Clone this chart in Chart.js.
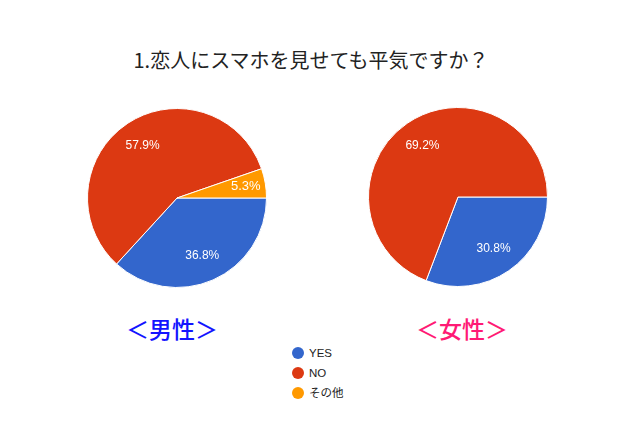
<!DOCTYPE html>
<html>
<head>
<meta charset="utf-8">
<script src="https://cdn.jsdelivr.net/npm/chart.js@4"></script>
<style>
body{margin:0;background:#fff;width:640px;height:427px;position:relative;overflow:hidden;font-family:"Noto Sans CJK JP",Arial,sans-serif}
#title{position:absolute;left:0;width:622px;top:45px;text-align:center;font-size:20px;color:#222}
.sub{position:absolute;top:311px;font-size:23px;width:140px;text-align:center;font-weight:500}
#legend{position:absolute;left:292px;top:343px;font-size:11.5px;color:#222;font-family:Arial,"Noto Sans CJK JP",sans-serif}
#legend div{height:20px;line-height:20px;display:flex;align-items:center}
#legend span{display:inline-block;width:12px;height:12px;border-radius:50%;margin-right:5px}
canvas{position:absolute}
</style>
</head>
<body>
<div id="title">1.恋人にスマホを見せても平気ですか？</div>
<canvas id="male" width="200" height="200" style="left:77px;top:98px"></canvas>
<canvas id="female" width="200" height="200" style="left:358px;top:97px"></canvas>
<div class="sub" style="left:102px;color:#1414ff">＜男性＞</div>
<div class="sub" style="left:392px;color:#ff1a75">＜女性＞</div>
<div id="legend"></div>
<script>
// データ
const categories = ['YES', 'NO', 'その他'];
const maleValues = [36.8, 57.9, 5.3];
const femaleValues = [30.8, 69.2, 0];
const colores = ['#3366cc', '#dc3912', '#ff9900'];

// ラベル（パーセント）
const etiquetas = {
  id: 'etiquetas',
  afterDatasetsDraw(chart){
    const ctx = chart.ctx;
    const meta = chart.getDatasetMeta(0);
    const data = chart.data.datasets[0].data;
    ctx.save();
    ctx.fillStyle = '#fff';
    ctx.textAlign = 'center';
    ctx.textBaseline = 'middle';
    meta.data.forEach(function(arc, i){
      if(!data[i]) return;
      const p = arc.getProps(['startAngle','endAngle','outerRadius','x','y'], true);
      const mid = (p.startAngle + p.endAngle) / 2;
      const r = p.outerRadius * (data[i] < 10 ? 0.78 : 0.7);
      ctx.font = (data[i] < 10 ? '13px' : '12px') + ' Arial';
      ctx.fillText(data[i].toFixed(1) + '%', p.x + Math.cos(mid) * r, p.y + Math.sin(mid) * r);
    });
    ctx.restore();
  }
};

function pastel(id, valores){
  new Chart(document.getElementById(id), {
    type: 'pie',
    data: {
      labels: categories,
      datasets: [{
        data: valores,
        backgroundColor: colores,
        borderColor: '#fff',
        borderWidth: 1
      }]
    },
    options: {
      responsive: false,
      animation: false,
      rotation: 90,
      layout: {padding: 10},
      plugins: {legend: {display: false}, tooltip: {enabled: false}}
    },
    plugins: [etiquetas]
  });
}
pastel('male', maleValues);
pastel('female', femaleValues);

// leyenda
const leg = document.getElementById('legend');
for(var i = 0; i < categories.length; i++){
  leg.innerHTML += '<div><span style="background:' + colores[i] + '"></span>' + categories[i] + '</div>';
}
</script>
</body>
</html>
